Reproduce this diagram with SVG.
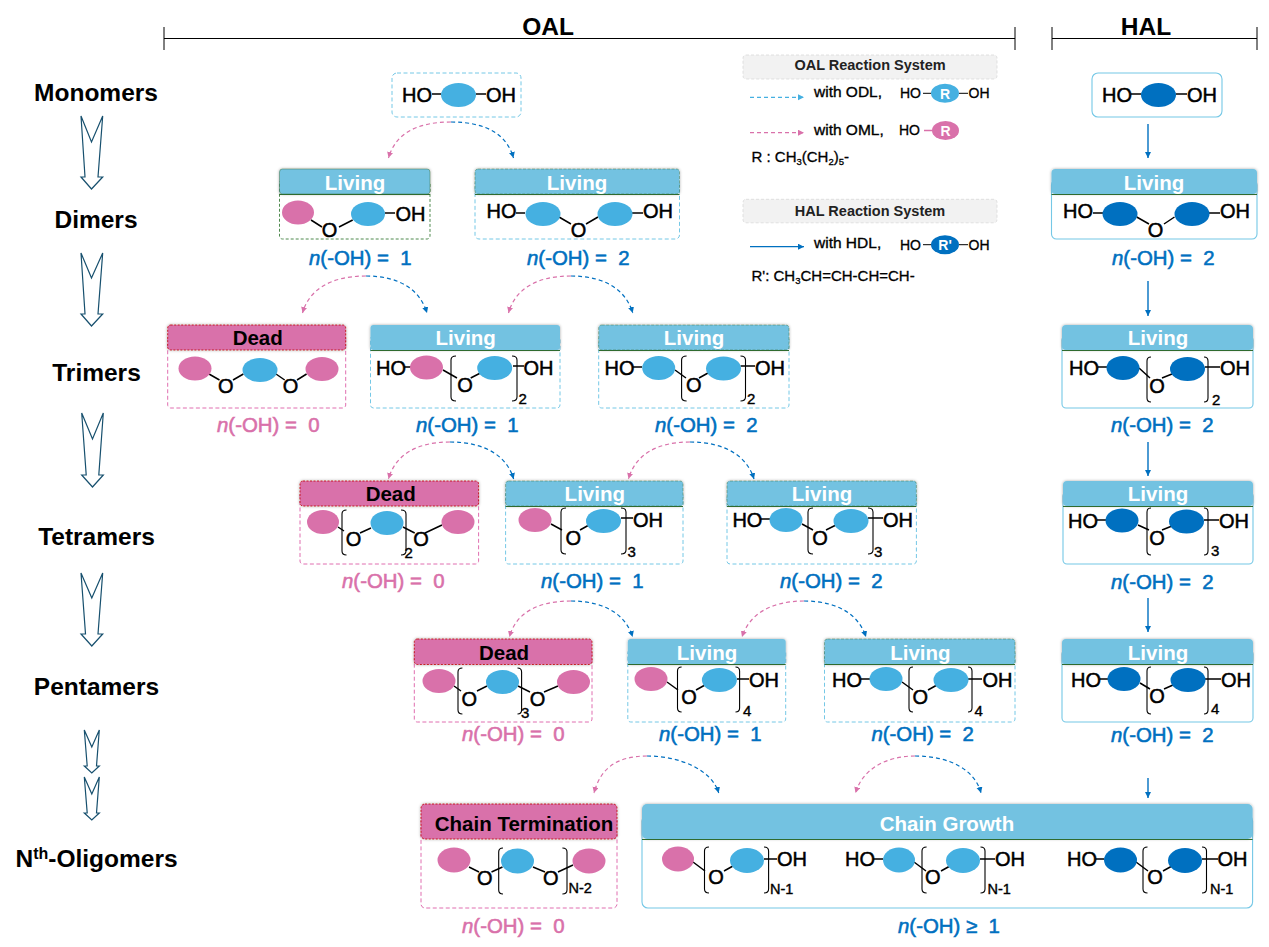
<svg xmlns="http://www.w3.org/2000/svg" width="1269" height="947" viewBox="0 0 1269 947">
<style>
text{font-family:"Liberation Sans",Arial,sans-serif;fill:#000}
.t{font-weight:bold;font-size:24.5px;text-anchor:middle}
.f{font-size:20px;stroke:#000;stroke-width:.5}
.o{font-size:20px;stroke:#000;stroke-width:.5;text-anchor:middle}
.s{font-size:15px;stroke:#000;stroke-width:.4}
.hd{font-weight:bold;font-size:20.5px;text-anchor:middle}
.w{fill:#fff}
.n{font-size:20.4px;stroke-width:.55}
.nb{fill:#0070c0;stroke:#0070c0}
.np{fill:#d971aa;stroke:#d971aa}
.lg{font-size:15.5px;stroke:#000;stroke-width:.35}
.lg2{font-size:14px;stroke:#000;stroke-width:.3}
.lg3{font-size:15px;stroke:#000;stroke-width:.3}
.lh{font-weight:bold;font-size:14.5px;text-anchor:middle;fill:#222}
.ax{fill:none;stroke:#000;stroke-width:1}
.big{fill:#fff;stroke:#17506e;stroke-width:1.2}
.hp{fill:#d971aa;stroke:#c00000;stroke-width:.8;stroke-dasharray:2 1.5;filter:url(#sh)}
.hb{fill:#73c2e1;stroke:#2f6b2f;stroke-width:.6;stroke-opacity:.7;stroke-dasharray:3 1.5;filter:url(#sh)}
.hh{fill:#73c2e1;filter:url(#sh)}
.gl{stroke:#2f6b2f;stroke-width:1;fill:none}
.bb{fill:#fff;stroke:#75c8e6;stroke-width:1;stroke-dasharray:4 2.5}
.bp{fill:#fff;stroke:#e06fb0;stroke-width:1;stroke-dasharray:4 2.5}
.bg{fill:#fff;stroke:#4f8a4f;stroke-width:1;stroke-dasharray:3 2}
.bs{fill:#fff;stroke:#75c8e6;stroke-width:1.1}
.P{fill:#d971aa}
.B{fill:#45b0e1}
.D{fill:#0070c0}
.bd{fill:none;stroke:#000;stroke-width:1.5}
.br{fill:none;stroke:#000;stroke-width:1.1}
.ap{fill:none;stroke:#d971aa;stroke-width:1.2;stroke-dasharray:4 3;marker-end:url(#mp)}
.ab{fill:none;stroke:#0070c0;stroke-width:1.2;stroke-dasharray:4 3;marker-end:url(#mb)}
.as{fill:none;stroke:#0070c0;stroke-width:1.4;marker-end:url(#mb)}
.gb{fill:#f2f2f2;stroke:#d9d9d9;stroke-width:.8;stroke-dasharray:3 2}
</style>
<defs>
<marker id="mp" markerWidth="8" markerHeight="8" refX="6" refY="3" orient="auto" markerUnits="userSpaceOnUse"><path d="M0 0L6 3L0 6Z" fill="#d971aa"/></marker>
<marker id="mb" markerWidth="8" markerHeight="8" refX="6" refY="3" orient="auto" markerUnits="userSpaceOnUse"><path d="M0 0L6 3L0 6Z" fill="#0070c0"/></marker>
<marker id="mc" markerWidth="8" markerHeight="8" refX="6" refY="3" orient="auto" markerUnits="userSpaceOnUse"><path d="M0 0L6 3L0 6Z" fill="#45b0e1"/></marker>
<filter id="sh" x="-5%" y="-20%" width="110%" height="140%"><feDropShadow dx="0" dy="0" stdDeviation="1.5" flood-color="#000" flood-opacity=".35"/></filter>
</defs>

<g id="axis">
<path class="ax" d="M164 38.500H1015M164 27V50M1015 27V50M1052 38.500H1257M1052 27V50M1257 27V50"/>
<text class="t" x="548" y="35">OAL</text>
<text class="t" x="1146" y="35">HAL</text>
</g>

<g id="stages">
<text class="t" x="96" y="101">Monomers</text>
<text class="t" x="96" y="227.500">Dimers</text>
<text class="t" x="96.500" y="381">Trimers</text>
<text class="t" x="96.500" y="544.500">Tetramers</text>
<text class="t" x="96.500" y="694.500">Pentamers</text>
<text class="t" x="96.500" y="866.500">N<tspan font-size="16" dy="-8">th</tspan><tspan dy="8">-Oligomers</tspan></text>
<path class="big" d="M81 116L91.500 142L102.700 116L98 177L102.700 177L91.500 189L81 177L85 177Z"/>
<path class="big" d="M81 253L91.500 278L102.700 253L98 314L102.700 314L91.500 326L81 314L85 314Z"/>
<path class="big" d="M81.700 413L92.500 439L103.300 413L98.800 475L103.300 475L92.500 487L81.700 475L86.200 475Z"/>
<path class="big" d="M81 573L91.800 598L102.700 573L98 634L102.700 634L91.800 646L81 634L85.500 634Z"/>
<path class="big" d="M84.300 730L91.800 747L99.300 730L96.500 766L99.300 766L91.800 773L84.300 766L87.200 766Z"/>
<path class="big" d="M84.300 777L91.800 794L99.300 777L96.500 813L99.300 813L91.800 820L84.300 813L87.200 813Z"/>
</g>

<g id="connectors">
<path class="ap" d="M451 122C415 122 395 135 388.500 158"/>
<path class="ab" d="M451 122C487 122 507 135 513.500 158"/>
<path class="ap" d="M366 276C330 276 309 290 302.500 313"/>
<path class="ab" d="M366 276C400 276 420 290 427 313"/>
<path class="ap" d="M571 276C535 276 515 290 508.500 313"/>
<path class="ab" d="M571 276C605 276 626 290 632.700 313"/>
<path class="ap" d="M450 442C415 442 395 456 388.500 479"/>
<path class="ab" d="M450 442C485 442 507 456 513.600 479"/>
<path class="ap" d="M690 442C655 442 635 456 628.500 479"/>
<path class="ab" d="M690 442C725 442 747 456 754 479"/>
<path class="ap" d="M571 601C535 601 515 615 509.500 637"/>
<path class="ab" d="M571 601C605 601 626 615 632.600 637"/>
<path class="ap" d="M804 601C770 601 749 615 742 637"/>
<path class="ab" d="M804 601C838 601 859 615 866 637"/>
<path class="ap" d="M647 756C615 756 600 770 594 793"/>
<path class="ab" d="M647 756C680 756 712 770 718.700 793"/>
<path class="ap" d="M915 756C885 756 862 770 855.600 793"/>
<path class="ab" d="M915 756C950 756 975 770 981 793"/>
<path class="as" d="M1148 124V158"/>
<path class="as" d="M1148 281V316"/>
<path class="as" d="M1148 442V476"/>
<path class="as" d="M1148 598V632"/>
<path class="as" d="M1148 778V798"/>
</g>

<g id="legend">
<rect class="gb" x="743" y="55" width="254" height="24" rx="3"/>
<text class="lh" x="870" y="70">OAL Reaction System</text>
<path d="M750 97.300H804" fill="none" stroke="#45b0e1" stroke-width="1.200" stroke-dasharray="4 3" marker-end="url(#mc)"/>
<text class="lg" x="814" y="96.700">with ODL,</text>
<text class="lg2" x="900" y="98">HO</text>
<path class="bd" style="stroke-width:1" d="M923 93.300H932M959 93.300H968"/>
<ellipse class="B" cx="945" cy="93.300" rx="14" ry="9.500"/>
<text class="lg2 w" style="font-weight:bold;stroke:none;text-anchor:middle" x="945" y="99">R</text>
<text class="lg2" x="968.500" y="98">OH</text>
<path d="M750 132.700H804" fill="none" stroke="#d971aa" stroke-width="1.200" stroke-dasharray="4 3" marker-end="url(#mp)"/>
<text class="lg" x="814" y="134.700">with OML,</text>
<text class="lg2" x="899" y="135">HO</text>
<path class="bd" style="stroke:#d971aa" d="M924 130.500H933"/>
<ellipse class="P" cx="945.500" cy="130.500" rx="13.500" ry="9.500"/>
<text class="lg2 w" style="font-weight:bold;stroke:none;text-anchor:middle" x="945.500" y="136">R</text>
<text class="lg3" x="751.500" y="162">R : CH<tspan font-size="9.500" dy="3">3</tspan><tspan dy="-3">(CH</tspan><tspan font-size="9.500" dy="3">2</tspan><tspan dy="-3">)</tspan><tspan font-size="9.500" dy="3">5</tspan><tspan dy="-3">-</tspan></text>
<rect class="gb" x="743" y="199.300" width="254" height="23.500" rx="3"/>
<text class="lh" x="870" y="216">HAL Reaction System</text>
<path d="M750 246.700H804" fill="none" stroke="#0070c0" stroke-width="1.300" marker-end="url(#mb)"/>
<text class="lg" x="814" y="248.300">with HDL,</text>
<text class="lg2" x="900" y="249.500">HO</text>
<path class="bd" style="stroke-width:1" d="M923 244.700H932M959 244.700H968"/>
<ellipse class="D" cx="945" cy="244.700" rx="14" ry="9.500"/>
<text class="lg2 w" style="font-weight:bold;stroke:none;text-anchor:middle" x="945" y="250">R'</text>
<text class="lg2" x="968.500" y="249.500">OH</text>
<text class="lg3" x="751.500" y="281">R': CH<tspan font-size="9.500" dy="3">3</tspan><tspan dy="-3">CH=CH-CH=CH-</tspan></text>
</g>

<g id="oal-monomer">
<rect class="bb" x="392" y="73" width="129" height="44" rx="5"/>
<path class="bd" d="M432 94H441M476 94H486"/>
<ellipse class="B" cx="458.500" cy="95" rx="17.500" ry="12"/>
<text class="f" x="402" y="102">HO</text><text class="f" x="486" y="102">OH</text>
</g>

<g id="hal-monomer">
<rect class="bs" x="1092" y="73" width="130" height="44" rx="6"/>
<path class="bd" d="M1131 94H1141M1176 94H1187"/>
<ellipse class="D" cx="1158.500" cy="95" rx="17.500" ry="12"/>
<text class="f" x="1102" y="102">HO</text><text class="f" x="1187" y="102">OH</text>
</g>

<g id="dimer-1">
<rect class="bg" x="279.500" y="180" width="150.500" height="59" rx="3"/>
<rect class="hb" style="stroke-dasharray:none" x="279.500" y="169" width="150.500" height="25" rx="3"/>
<path class="gl" d="M279.500 194.500H430"/>
<text class="hd w" x="355" y="190">Living</text>
<path class="bd" d="M311 220L322 227M339 227L352.700 220M385 213H395"/>
<ellipse class="P" cx="298" cy="212.500" rx="16" ry="12"/>
<ellipse class="B" cx="368" cy="214" rx="17" ry="12"/>
<text class="o" x="329.500" y="237">O</text>
<text class="f" x="395.500" y="221">OH</text>
<text class="n nb" x="309" y="265"><tspan font-style="italic">n</tspan>(-OH)&#160;=&#160;&#160;1</text>
</g>

<g id="dimer-2">
<rect class="bb" x="475" y="180" width="204.500" height="59" rx="4"/>
<rect class="hb" x="475" y="169" width="204.500" height="25" rx="3"/>
<path class="gl" d="M475 194.500H679.500"/>
<text class="hd w" x="577" y="190">Living</text>
<path class="bd" d="M516 213H525M559 217L571 224M586 224L598 217M632 213H643"/>
<ellipse class="B" cx="543" cy="214" rx="17.500" ry="12"/>
<ellipse class="B" cx="615" cy="214" rx="17.500" ry="12"/>
<text class="f" x="486.500" y="218">HO</text>
<text class="o" x="578.500" y="237">O</text>
<text class="f" x="643" y="218">OH</text>
<text class="n nb" x="527" y="265"><tspan font-style="italic">n</tspan>(-OH)&#160;=&#160;&#160;2</text>
</g>

<g id="hal-dimer">
<rect class="bs" x="1051.500" y="180" width="205.500" height="59" rx="5"/>
<rect class="hh" x="1051.500" y="169" width="205.500" height="25" rx="4"/>
<path class="gl" d="M1051.500 194.500H1257"/>
<text class="hd w" x="1154" y="190">Living</text>
<path class="bd" d="M1093 213H1103M1136.700 217L1149 224M1164 224L1174.500 217M1209 213H1220"/>
<ellipse class="D" cx="1120" cy="214" rx="17.500" ry="12"/>
<ellipse class="D" cx="1192" cy="214" rx="17.500" ry="12"/>
<text class="f" x="1063" y="218">HO</text>
<text class="o" x="1155.500" y="237">O</text>
<text class="f" x="1220" y="218">OH</text>
<text class="n nb" x="1112" y="265"><tspan font-style="italic">n</tspan>(-OH)&#160;=&#160;&#160;2</text>
</g>

<g id="trimer-dead">
<rect class="bp" x="167.700" y="336" width="178" height="72" rx="3"/>
<rect class="hp" x="167.700" y="325" width="178" height="25" rx="3"/>
<text class="hd" x="257.700" y="345">Dead</text>
<path class="bd" d="M209 374L219.500 380M233 380L243.400 374M276 374L284.700 380M297 380L306.600 374"/>
<ellipse class="P" cx="195" cy="368.500" rx="16.500" ry="12"/>
<ellipse class="B" cx="260" cy="370" rx="17.500" ry="12"/>
<ellipse class="P" cx="322" cy="369" rx="16.500" ry="12"/>
<text class="o" x="225.800" y="393">O</text>
<text class="o" x="290.600" y="393">O</text>
<text class="n np" x="217" y="432"><tspan font-style="italic">n</tspan>(-OH)&#160;=&#160;&#160;0</text>
</g>

<g id="trimer-2">
<rect class="bb" x="370.500" y="336" width="189.500" height="72" rx="3"/>
<rect class="hh" x="370.500" y="325" width="189.500" height="25" rx="3"/>
<path class="gl" d="M370.500 350.500H560"/>
<text class="hd w" x="465.700" y="345">Living</text>
<path class="bd" d="M404 367H411M443 370L457 378M470.700 378L480.400 373M513 366H524"/>
<path class="br" d="M456 356Q451 356 451 360V397Q451 401 456 401M512 356Q517 356 517 360V397Q517 401 512 401"/>
<ellipse class="P" cx="426.500" cy="367.500" rx="16.500" ry="12"/>
<ellipse class="B" cx="494.700" cy="368" rx="17.500" ry="12"/>
<text class="f" x="376" y="375">HO</text>
<text class="o" x="465" y="392">O</text>
<text class="f" x="523.500" y="375">OH</text>
<text class="s" x="518.500" y="404">2</text>
<text class="n nb" x="416" y="432"><tspan font-style="italic">n</tspan>(-OH)&#160;=&#160;&#160;1</text>
</g>

<g id="trimer-3">
<rect class="bb" x="598.700" y="336" width="190.300" height="72" rx="3"/>
<rect class="hb" x="598.700" y="325" width="190.300" height="25" rx="3"/>
<path class="gl" d="M598.700 350.500H789"/>
<text class="hd w" x="694" y="345">Living</text>
<path class="bd" d="M632.700 367H642M675 370L686 378M699 378L708 373M740.500 366H755"/>
<path class="br" d="M686.600 356Q681.600 356 681.600 360V397Q681.600 401 686.600 401M740.500 356Q745.500 356 745.500 360V397Q745.500 401 740.500 401"/>
<ellipse class="B" cx="658.700" cy="368" rx="16.500" ry="12"/>
<ellipse class="B" cx="723.500" cy="368.500" rx="17.500" ry="12"/>
<text class="f" x="604.500" y="375">HO</text>
<text class="o" x="693.800" y="392">O</text>
<text class="f" x="755" y="375">OH</text>
<text class="s" x="747" y="404">2</text>
<text class="n nb" x="655" y="432"><tspan font-style="italic">n</tspan>(-OH)&#160;=&#160;&#160;2</text>
</g>

<g id="hal-trimer">
<rect class="bs" x="1062" y="336" width="191" height="72" rx="4"/>
<rect class="hh" x="1062" y="325" width="191" height="25" rx="4"/>
<path class="gl" d="M1062 350.500H1253"/>
<text class="hd w" x="1158" y="345">Living</text>
<path class="bd" d="M1098 367H1107M1139 368L1150 378M1162 378L1172 374M1205 367H1220"/>
<path class="br" d="M1151 357Q1147 357 1147 361V398Q1147 402 1151 402M1204 357Q1208 357 1208 361V398Q1208 402 1204 402"/>
<ellipse class="D" cx="1123" cy="368" rx="16.500" ry="12"/>
<ellipse class="D" cx="1187.500" cy="369" rx="17.500" ry="12"/>
<text class="f" x="1069" y="375">HO</text>
<text class="o" x="1157" y="393">O</text>
<text class="f" x="1220" y="375">OH</text>
<text class="s" x="1212" y="405">2</text>
<text class="n nb" x="1111" y="432"><tspan font-style="italic">n</tspan>(-OH)&#160;=&#160;&#160;2</text>
</g>

<g id="tetramer-dead">
<rect class="bp" x="300" y="492" width="178.600" height="72" rx="3"/>
<rect class="hp" x="300" y="481" width="178.600" height="25" rx="3"/>
<text class="hd" x="390.700" y="501">Dead</text>
<path class="bd" d="M338 527L344 531M360 533L371 528M403 527L414.700 533M425 533L442 525"/>
<path class="br" d="M346.500 510Q342 510 342 514V551Q342 555 346.500 555M401 510Q406 510 406 514V551Q406 555 401 555"/>
<ellipse class="P" cx="323" cy="522" rx="16" ry="12"/>
<ellipse class="B" cx="387" cy="523" rx="16.500" ry="12"/>
<ellipse class="P" cx="458" cy="522" rx="16.500" ry="12"/>
<text class="o" x="353.600" y="546">O</text>
<text class="o" x="421" y="546">O</text>
<text class="s" x="404.500" y="558">2</text>
<text class="n np" x="342" y="588"><tspan font-style="italic">n</tspan>(-OH)&#160;=&#160;&#160;0</text>
</g>

<g id="tetramer-2">
<rect class="bb" x="505.600" y="492" width="177.400" height="72" rx="3"/>
<rect class="hb" x="505.600" y="481" width="177.400" height="25" rx="3"/>
<path class="gl" d="M505.600 506.500H683"/>
<text class="hd w" x="594.800" y="501">Living</text>
<path class="bd" d="M551 524L562 530M580 530L589 525M621 518H633"/>
<path class="br" d="M566 508Q561 508 561 512V550Q561 554 566 554M621 508Q626 508 626 512V550Q626 554 621 554"/>
<ellipse class="P" cx="535" cy="520" rx="16.500" ry="12"/>
<ellipse class="B" cx="603.500" cy="521" rx="17.500" ry="12"/>
<text class="o" x="573.400" y="545">O</text>
<text class="f" x="633" y="527">OH</text>
<text class="s" x="627.500" y="557">3</text>
<text class="n nb" x="541" y="588"><tspan font-style="italic">n</tspan>(-OH)&#160;=&#160;&#160;1</text>
</g>

<g id="tetramer-3">
<rect class="bb" x="727" y="492" width="189.400" height="72" rx="3"/>
<rect class="hb" x="727" y="481" width="189.400" height="25" rx="3"/>
<path class="gl" d="M727 506.500H916.400"/>
<text class="hd w" x="822" y="501">Living</text>
<path class="bd" d="M761 519H770M802 524L813 530M826 530L836 525M868 518H883"/>
<path class="br" d="M813 508Q808 508 808 512V550Q808 554 813 554M868 508Q873 508 873 512V550Q873 554 868 554"/>
<ellipse class="B" cx="786" cy="520" rx="16.500" ry="12"/>
<ellipse class="B" cx="851" cy="521" rx="17.500" ry="12"/>
<text class="f" x="732.400" y="527">HO</text>
<text class="o" x="820" y="545">O</text>
<text class="f" x="883" y="527">OH</text>
<text class="s" x="874" y="557">3</text>
<text class="n nb" x="780" y="588"><tspan font-style="italic">n</tspan>(-OH)&#160;=&#160;&#160;2</text>
</g>

<g id="hal-tetramer">
<rect class="bs" x="1063" y="492" width="190" height="72" rx="4"/>
<rect class="hh" x="1063" y="481" width="190" height="25" rx="4"/>
<path class="gl" d="M1063 506.500H1253"/>
<text class="hd w" x="1158" y="501">Living</text>
<path class="bd" d="M1097 520H1106M1138 525L1149 530M1162 530L1172 526M1204 520H1219"/>
<path class="br" d="M1151 508Q1147 508 1147 512V551Q1147 555 1151 555M1204 508Q1208 508 1208 512V551Q1208 555 1204 555"/>
<ellipse class="D" cx="1122" cy="520.500" rx="16.500" ry="12"/>
<ellipse class="D" cx="1186.500" cy="521.500" rx="17.500" ry="12"/>
<text class="f" x="1068" y="528">HO</text>
<text class="o" x="1157" y="545">O</text>
<text class="f" x="1219" y="528">OH</text>
<text class="s" x="1211" y="556">3</text>
<text class="n nb" x="1111" y="589"><tspan font-style="italic">n</tspan>(-OH)&#160;=&#160;&#160;2</text>
</g>

<g id="pentamer-dead">
<rect class="bp" x="414.300" y="650" width="177.700" height="72" rx="3"/>
<rect class="hp" x="414.300" y="639" width="177.700" height="25.500" rx="3"/>
<text class="hd" x="504" y="659.500">Dead</text>
<path class="bd" d="M454 686L461 691M477 691L487 686M518 686L530 692M544 692L558 686"/>
<path class="br" d="M462.400 668Q458 668 458 672V710Q458 714 462.400 714M517.500 668Q521.600 668 521.600 672V710Q521.600 714 517.500 714"/>
<ellipse class="P" cx="439" cy="681" rx="16.500" ry="12"/>
<ellipse class="B" cx="502.500" cy="682" rx="16.500" ry="12"/>
<ellipse class="P" cx="573.500" cy="682" rx="16.500" ry="12"/>
<text class="o" x="469.400" y="706">O</text>
<text class="o" x="537.500" y="706">O</text>
<text class="s" x="521" y="718">3</text>
<text class="n np" x="462" y="741"><tspan font-style="italic">n</tspan>(-OH)&#160;=&#160;&#160;0</text>
</g>

<g id="pentamer-2">
<rect class="bb" x="627.800" y="650" width="157.900" height="72" rx="3"/>
<rect class="hh" x="627.800" y="639" width="157.900" height="25.500" rx="3"/>
<path class="gl" d="M627.800 664.500H785.700"/>
<text class="hd w" x="707" y="659.500">Living</text>
<path class="bd" d="M667 682L678 690M696 690L705 685M737 679H749"/>
<path class="br" d="M681.600 667Q677.500 667 677.500 671V708Q677.500 712 681.600 712M735.500 667Q739.600 667 739.600 671V708Q739.600 712 735.500 712"/>
<ellipse class="P" cx="651" cy="679" rx="16.500" ry="12"/>
<ellipse class="B" cx="719.400" cy="680" rx="17.500" ry="12"/>
<text class="o" x="689" y="704">O</text>
<text class="f" x="749" y="687">OH</text>
<text class="s" x="743" y="716">4</text>
<text class="n nb" x="659" y="741"><tspan font-style="italic">n</tspan>(-OH)&#160;=&#160;&#160;1</text>
</g>

<g id="pentamer-3">
<rect class="bb" x="824.500" y="650" width="190.500" height="72" rx="3"/>
<rect class="hb" x="824.500" y="639" width="190.500" height="25.500" rx="3"/>
<path class="gl" d="M824.500 664.500H1015"/>
<text class="hd w" x="920.400" y="659.500">Living</text>
<path class="bd" d="M861 679H870M902 682L913 690M928 690L937 685M968 679H982"/>
<path class="br" d="M913 667Q909 667 909 671V708Q909 712 913 712M968 667Q972 667 972 671V708Q972 712 968 712"/>
<ellipse class="B" cx="886" cy="679" rx="16.500" ry="12"/>
<ellipse class="B" cx="951" cy="680" rx="17.500" ry="12"/>
<text class="f" x="832" y="687">HO</text>
<text class="o" x="920.400" y="704">O</text>
<text class="f" x="982.400" y="687">OH</text>
<text class="s" x="974.500" y="716">4</text>
<text class="n nb" x="871.400" y="741"><tspan font-style="italic">n</tspan>(-OH)&#160;=&#160;&#160;2</text>
</g>

<g id="hal-pentamer">
<rect class="bs" x="1062" y="650" width="191" height="72" rx="4"/>
<rect class="hh" x="1062" y="639" width="191" height="25.500" rx="4"/>
<path class="gl" d="M1062 664.500H1253"/>
<text class="hd w" x="1158" y="659.500">Living</text>
<path class="bd" d="M1100 679H1108M1140 683L1150 689M1164 689L1173 685M1205 679H1221"/>
<path class="br" d="M1151 667Q1147 667 1147 671V710Q1147 714 1151 714M1204 667Q1208 667 1208 671V710Q1208 714 1204 714"/>
<ellipse class="D" cx="1124" cy="679" rx="16.500" ry="12"/>
<ellipse class="D" cx="1188" cy="680" rx="17.500" ry="12"/>
<text class="f" x="1071" y="687">HO</text>
<text class="o" x="1157" y="703">O</text>
<text class="f" x="1221" y="687">OH</text>
<text class="s" x="1211" y="714">4</text>
<text class="n nb" x="1111" y="742"><tspan font-style="italic">n</tspan>(-OH)&#160;=&#160;&#160;2</text>
</g>

<g id="chain-termination">
<rect class="bp" x="421" y="815" width="196" height="93" rx="4"/>
<rect class="hp" x="421" y="804" width="196" height="35" rx="4"/>
<text class="hd" x="524" y="830.500">Chain Termination</text>
<path class="bd" d="M469 867L479 872M491.500 872L502.500 867M533 867L545 872M558 872L573 865"/>
<path class="br" d="M503 848Q498.700 848 498.700 852V890Q498.700 894 503 894M562.400 848Q567 848 567 852V890Q567 894 562.400 894"/>
<ellipse class="P" cx="454" cy="860" rx="16.500" ry="12.500"/>
<ellipse class="B" cx="517.500" cy="861" rx="16.500" ry="12.500"/>
<ellipse class="P" cx="589" cy="861" rx="16.500" ry="12.500"/>
<text class="o" x="484.800" y="885">O</text>
<text class="o" x="550.800" y="885">O</text>
<text class="s" x="568.500" y="893" style="font-size:14.500px">N-2</text>
<text class="n np" x="462" y="933"><tspan font-style="italic">n</tspan>(-OH)&#160;=&#160;&#160;0</text>
</g>

<g id="chain-growth">
<rect class="bs" x="642" y="815" width="610.600" height="93" rx="6"/>
<rect class="hh" x="642" y="804" width="610.600" height="35" rx="5"/>
<path class="gl" d="M642 839.500H1252.600"/>
<text class="hd w" x="947" y="830.500">Chain Growth</text>
<path class="bd" d="M693 862L705 871M724 871L733 866M764 859H777M873 859H883M914 862L926 871M941 871L950 866M980 859H995M1096 859H1104M1136 862L1148 871M1163 871L1172 866M1202 859H1218"/>
<path class="br" d="M709 847Q704.500 847 704.500 851V889Q704.500 893 709 893M764 847Q768.600 847 768.600 851V889Q768.600 893 764 893M926.600 847Q922 847 922 851V889Q922 893 926.600 893M980.500 847Q985 847 985 851V889Q985 893 980.500 893M1147.500 847Q1143 847 1143 851V889Q1143 893 1147.500 893M1202 847Q1206.500 847 1206.500 851V889Q1206.500 893 1202 893"/>
<ellipse class="P" cx="678" cy="859" rx="16" ry="12.500"/>
<ellipse class="B" cx="747" cy="860.500" rx="17" ry="12.500"/>
<ellipse class="B" cx="899" cy="860" rx="16" ry="12.500"/>
<ellipse class="B" cx="963" cy="860.500" rx="17" ry="12.500"/>
<ellipse class="D" cx="1120.500" cy="860" rx="16.500" ry="12.500"/>
<ellipse class="D" cx="1185" cy="860.500" rx="17" ry="12.500"/>
<text class="o" x="716" y="884">O</text>
<text class="f" x="777" y="866">OH</text>
<text class="s" x="770" y="894" style="font-size:14.500px">N-1</text>
<text class="f" x="845" y="866">HO</text>
<text class="o" x="932.700" y="884">O</text>
<text class="f" x="995" y="866">OH</text>
<text class="s" x="987.500" y="894" style="font-size:14.500px">N-1</text>
<text class="f" x="1067" y="866">HO</text>
<text class="o" x="1155" y="884">O</text>
<text class="f" x="1217.500" y="866">OH</text>
<text class="s" x="1210" y="894" style="font-size:14.500px">N-1</text>
<text class="n nb" x="898" y="933"><tspan font-style="italic">n</tspan>(-OH)&#160;&#8805;&#160;&#160;1</text>
</g>
</svg>
